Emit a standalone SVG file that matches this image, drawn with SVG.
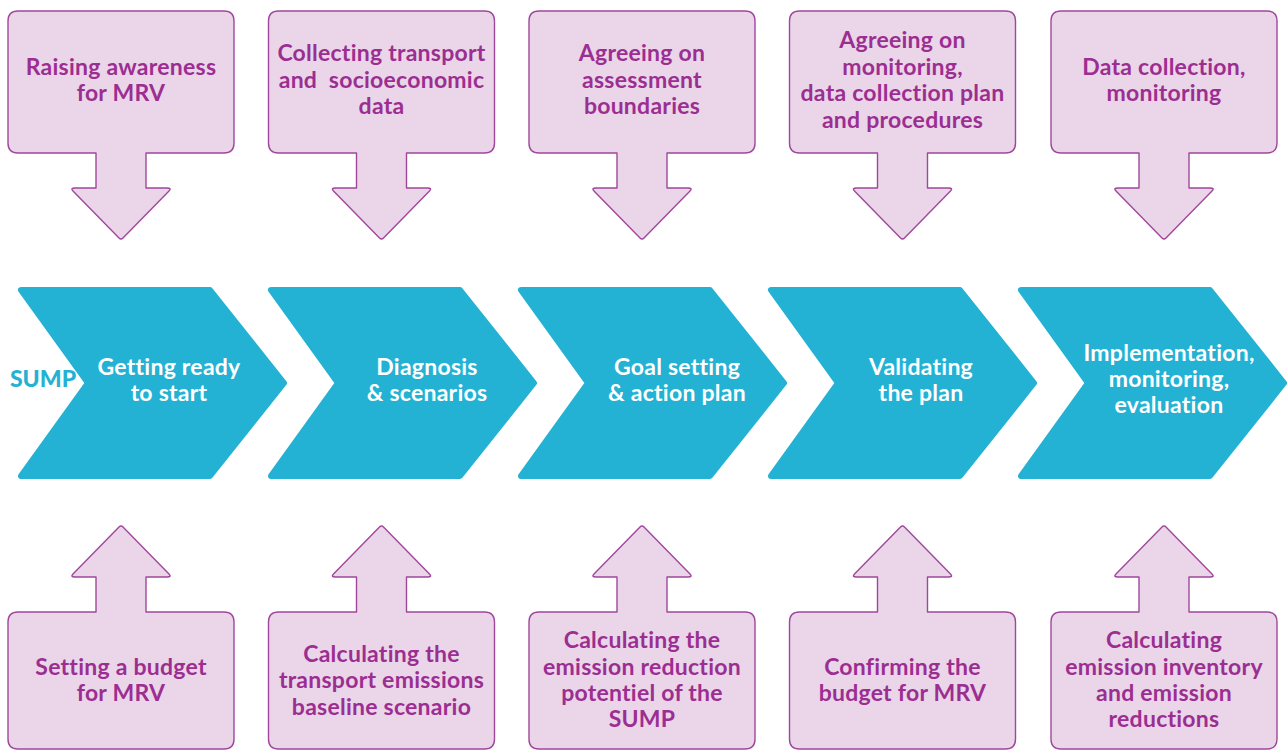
<svg xmlns="http://www.w3.org/2000/svg" width="1287" height="751" viewBox="0 0 1287 751">
<style>
.box{fill:#ead5e9;stroke:#a0479c;stroke-width:1.4;stroke-linejoin:round}
.chev{fill:#23b2d4;stroke:#23b2d4;stroke-width:6;stroke-linejoin:round}
.pt{font-family:Lato,"Open Sans","Liberation Sans",sans-serif;font-weight:700;font-size:23px;letter-spacing:0.25px;fill:#9c2e91;text-anchor:middle}
.wt{font-family:Lato,"Open Sans","Liberation Sans",sans-serif;font-weight:700;font-size:23px;letter-spacing:0.25px;fill:#ffffff;text-anchor:middle}
.sump{font-family:Lato,"Open Sans","Liberation Sans",sans-serif;font-weight:900;font-size:23px;fill:#23b2d4;text-anchor:middle}
</style>
<defs>
<path id="topbox" d="M10,11 H216 Q226,11 226,21 V143 Q226,153 216,153 H138 V188 H159 Q164,188 161,191 L115,238 Q113,240 111,238 L65,191 Q62,188 67,188 H88 V153 H10 Q0,153 0,143 V21 Q0,11 10,11 Z"/>
<path id="botbox" d="M10,612 H88 V577 H67 Q62,577 65,574 L111,527 Q113,525 115,527 L161,574 Q164,577 159,577 H138 V612 H216 Q226,612 226,622 V739 Q226,749 216,749 H10 Q0,749 0,739 V622 Q0,612 10,612 Z"/>
<path id="chevron" d="M3,290 H192 L266,383 L192,476 H3 L70,383 Z"/>
</defs>
<g id="connectors"></g>
<g id="top1"><use href="#topbox" class="box" x="8"/><text class="pt"><tspan x="121" y="75">Raising awareness</tspan><tspan x="121" y="101">for MRV</tspan></text></g>
<g id="top2"><use href="#topbox" class="box" x="268.5"/><text class="pt" xml:space="preserve"><tspan x="381.5" y="61">Collecting transport</tspan><tspan x="381.5" y="88">and  socioeconomic</tspan><tspan x="381.5" y="114">data</tspan></text></g>
<g id="top3"><use href="#topbox" class="box" x="529"/><text class="pt"><tspan x="642" y="61">Agreeing on</tspan><tspan x="642" y="88">assessment</tspan><tspan x="642" y="114">boundaries</tspan></text></g>
<g id="top4"><use href="#topbox" class="box" x="789.5"/><text class="pt"><tspan x="902.5" y="48">Agreeing on</tspan><tspan x="902.5" y="75">monitoring,</tspan><tspan x="902.5" y="101">data collection plan</tspan><tspan x="902.5" y="128">and procedures</tspan></text></g>
<g id="top5"><use href="#topbox" class="box" x="1051"/><text class="pt"><tspan x="1164" y="75">Data collection,</tspan><tspan x="1164" y="101">monitoring</tspan></text></g>
<g id="sump"><text class="sump" x="43" y="387">SUMP</text></g>
<g id="chev1"><use href="#chevron" class="chev" x="18"/><text class="wt"><tspan x="169" y="375">Getting ready</tspan><tspan x="169" y="401">to start</tspan></text></g>
<g id="chev2"><use href="#chevron" class="chev" x="268"/><text class="wt"><tspan x="427" y="375">Diagnosis</tspan><tspan x="427" y="401">&amp; scenarios</tspan></text></g>
<g id="chev3"><use href="#chevron" class="chev" x="518"/><text class="wt"><tspan x="677" y="375">Goal setting</tspan><tspan x="677" y="401">&amp; action plan</tspan></text></g>
<g id="chev4"><use href="#chevron" class="chev" x="768"/><text class="wt"><tspan x="921" y="375">Validating</tspan><tspan x="921" y="401">the plan</tspan></text></g>
<g id="chev5"><use href="#chevron" class="chev" x="1018"/><text class="wt"><tspan x="1169" y="361">Implementation,</tspan><tspan x="1169" y="387">monitoring,</tspan><tspan x="1169" y="413">evaluation</tspan></text></g>
<g id="bot1"><use href="#botbox" class="box" x="8"/><text class="pt"><tspan x="121" y="675">Setting a budget</tspan><tspan x="121" y="701">for MRV</tspan></text></g>
<g id="bot2"><use href="#botbox" class="box" x="268.5"/><text class="pt"><tspan x="381.5" y="662">Calculating the</tspan><tspan x="381.5" y="688">transport emissions</tspan><tspan x="381.5" y="715">baseline scenario</tspan></text></g>
<g id="bot3"><use href="#botbox" class="box" x="529"/><text class="pt"><tspan x="642" y="648">Calculating the</tspan><tspan x="642" y="675">emission reduction</tspan><tspan x="642" y="701">potentiel of the</tspan><tspan x="642" y="727">SUMP</tspan></text></g>
<g id="bot4"><use href="#botbox" class="box" x="789.5"/><text class="pt"><tspan x="902.5" y="675">Confirming the</tspan><tspan x="902.5" y="701">budget for MRV</tspan></text></g>
<g id="bot5"><use href="#botbox" class="box" x="1051"/><text class="pt"><tspan x="1164" y="648">Calculating</tspan><tspan x="1164" y="675">emission inventory</tspan><tspan x="1164" y="701">and emission</tspan><tspan x="1164" y="727">reductions</tspan></text></g>
</svg>
